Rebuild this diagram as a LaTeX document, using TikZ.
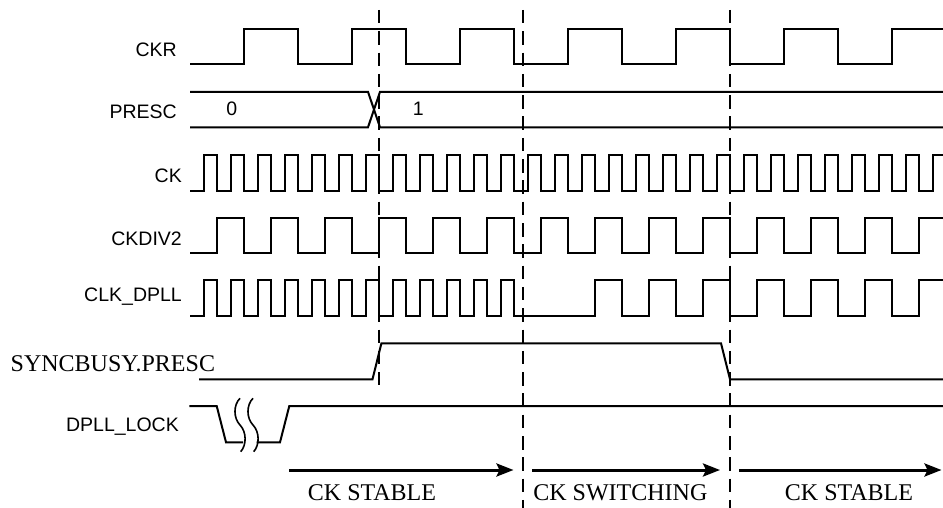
\documentclass[tikz,border=0pt]{standalone}
\usepackage{fontspec}
\setmainfont{Liberation Serif}
\setsansfont{Liberation Sans}
\usetikzlibrary{arrows.meta}
\begin{document}
\begin{tikzpicture}[x=1pt,y=-1pt,
  sig/.style={line width=2pt, line join=miter},
  guide/.style={line width=1.6pt, dash pattern=on 13.5pt off 7.8pt},
  phase/.style={line width=3pt, -{Stealth[length=17pt,width=13pt,inset=3pt]}},
  lbl/.style={font=\sffamily\fontsize{19.5}{22}\selectfont, inner sep=0pt, anchor=base east},
  val/.style={font=\sffamily\fontsize{19.5}{22}\selectfont, inner sep=0pt, anchor=base},
  serif/.style={font=\rmfamily\fontsize{24}{28}\selectfont, inner sep=0pt}
]
\def\xo{190}
\def\tu{13.5}
\fill[white] (0,0) rectangle (943,508);
\useasboundingbox (0,0) rectangle (943,508);

% labels
\node[lbl] (lckr) at (177,56.8) {CKR};
\node[lbl] (lpresc) at (177,119) {PRESC};
\node[lbl] (lck) at (182,182.3) {CK};
\node[lbl] (lckdiv) at (182,245.5) {CKDIV2};
\node[lbl] (ldpll) at (182,301) {CLK\_DPLL};
\node[lbl] (llock) at (179,431.7) {DPLL\_LOCK};
\node[serif, anchor=base west] (lsync) at (10.5,371.5) {SYNCBUSY.PRESC};

% CKR
\draw[sig] (190,64.5) foreach \k in {0,...,5} {
  -- ({\xo+(4+8*\k)*\tu},64.5) -- ({\xo+(4+8*\k)*\tu},29) -- ({\xo+(8+8*\k)*\tu},29) -- ({\xo+(8+8*\k)*\tu},64.5) }
  -- ({\xo+52*\tu},64.5) -- ({\xo+52*\tu},29) -- (943,29);

% PRESC bus
\draw[sig] (190,91.8) -- (368,91.8) -- (380,127.3) -- (943,127.3);
\draw[sig] (190,127.3) -- (368,127.3) -- (380,91.8) -- (943,91.8);
\node[val] (v0) at (231.7,116) {0};
\node[val] (v1) at (418.3,116) {1};

% CK
\draw[sig] (190,191) foreach \k in {0,...,26} {
  -- ({\xo+(2*\k+1)*\tu},191) -- ({\xo+(2*\k+1)*\tu},155) -- ({\xo+(2*\k+2)*\tu},155) -- ({\xo+(2*\k+2)*\tu},191) }
  -- ({\xo+55*\tu},191) -- ({\xo+55*\tu},155) -- (943,155);

% CKDIV2
\draw[sig] (190,253.3) foreach \k in {0,...,12} {
  -- ({\xo+(2+4*\k)*\tu},253.3) -- ({\xo+(2+4*\k)*\tu},217.7) -- ({\xo+(4+4*\k)*\tu},217.7) -- ({\xo+(4+4*\k)*\tu},253.3) }
  -- ({\xo+54*\tu},253.3) -- ({\xo+54*\tu},217.7) -- (943,217.7);

% CLK_DPLL
\draw[sig] (190,316) foreach \k in {0,...,11} {
  -- ({\xo+(2*\k+1)*\tu},316) -- ({\xo+(2*\k+1)*\tu},280.2) -- ({\xo+(2*\k+2)*\tu},280.2) -- ({\xo+(2*\k+2)*\tu},316) }
  foreach \k in {0,...,5} {
  -- ({\xo+(30+4*\k)*\tu},316) -- ({\xo+(30+4*\k)*\tu},280.2) -- ({\xo+(32+4*\k)*\tu},280.2) -- ({\xo+(32+4*\k)*\tu},316) }
  -- ({\xo+54*\tu},316) -- ({\xo+54*\tu},280.2) -- (943,280.2);

% SYNCBUSY.PRESC
\draw[sig] (199,379.3) -- (372.5,379.3) -- (381.4,343.3) -- (721,343.3) -- (730,379.3) -- (943,379.3);

% DPLL_LOCK
\draw[sig] (189.3,406) -- (216.7,406) -- (226,442.3) -- (243,442.3);
\draw[sig] (256.7,442.3) -- (280,442.3) -- (289.3,406) -- (943,406);
\draw[line width=1.6pt] (240,398.3) .. controls (233.3,405) and (233.3,418) .. (240,425)
  .. controls (246.7,432) and (246.7,445) .. (240.7,451.7);
\draw[line width=1.6pt] (253,398.3) .. controls (246.3,405) and (246.3,418) .. (253,425)
  .. controls (259.7,432) and (259.7,445) .. (253.7,451.7);

% guides
\coordinate (g1t) at (379,10); \coordinate (g1b) at (379,385);
\coordinate (g2t) at (523,10); \coordinate (g2b) at (523,508);
\coordinate (g3t) at (730,10); \coordinate (g3b) at (730,508);
\draw[guide] (g1t) -- (g1b);
\draw[guide] (g2t) -- (g2b);
\draw[guide] (g3t) -- (g3b);

% phase arrows
\coordinate (a1s) at (289,470); \coordinate (a1e) at (513.5,470);
\coordinate (a2s) at (532,470); \coordinate (a2e) at (720,470);
\coordinate (a3s) at (739,470); \coordinate (a3e) at (941.5,470);
\draw[phase] (a1s) -- (a1e);
\draw[phase] (a2s) -- (a2e);
\draw[phase] (a3s) -- (a3e);
\node[serif, anchor=base] (t1) at (372,500) {CK STABLE};
\node[serif, anchor=base] (t2) at (620.4,500) {CK SWITCHING};
\node[serif, anchor=base] (t3) at (849,500) {CK STABLE};
\end{tikzpicture}
\end{document}
